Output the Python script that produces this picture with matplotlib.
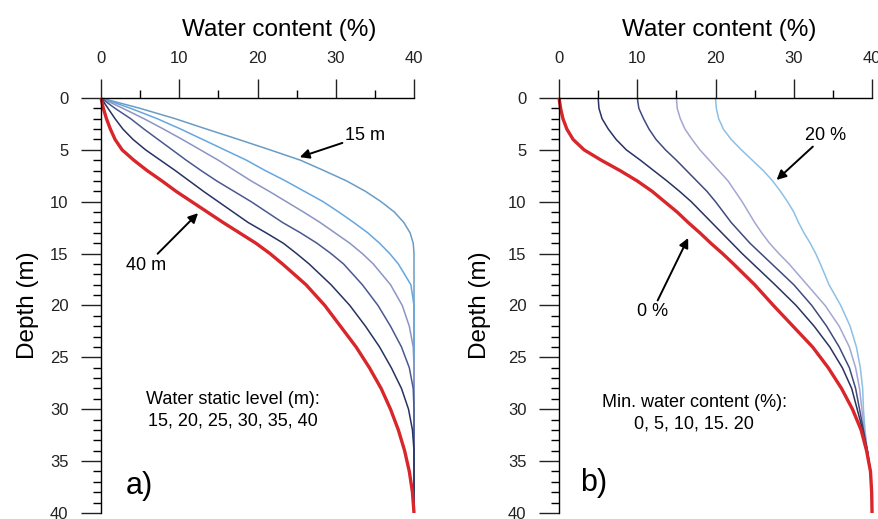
import matplotlib.pyplot as plt
from matplotlib.ticker import MultipleLocator

plt.rcParams['font.family'] = ['Liberation Sans', 'DejaVu Sans']

# Depth grid (m) used for all read-off curves
depth = [0, 1, 2, 3, 4, 5, 6, 7, 8, 9, 10, 11, 12, 13, 14, 15, 16, 18, 20, 22, 24, 26, 28, 30, 32, 34, 36, 38, 40]

# Panel a) water content (%) for water static level 15..40 m
wc_15m = [0, 5.0, 9.5, 13.5, 17.6, 21.6, 25.5, 28.5, 31.4, 33.8, 35.8, 37.5, 38.7, 39.5, 39.9, 40, 40, 40, 40, 40, 40, 40, 40, 40, 40, 40, 40, 40, 40]
wc_20m = [0, 3.8, 7.2, 10.2, 13.0, 15.8, 18.6, 21.0, 23.6, 26.0, 28.4, 30.4, 32.3, 34.1, 35.6, 36.9, 38.0, 39.6, 40, 40, 40, 40, 40, 40, 40, 40, 40, 40, 40]
wc_25m = [0, 2.8, 5.5, 8.0, 10.4, 12.7, 15.0, 17.1, 19.2, 21.5, 23.7, 25.9, 28.0, 29.9, 31.8, 33.4, 34.8, 37.0, 38.5, 39.4, 39.9, 40, 40, 40, 40, 40, 40, 40, 40]
wc_30m = [0, 1.8, 3.8, 5.5, 7.3, 9.1, 10.9, 12.8, 14.8, 17.0, 19.2, 21.2, 23.2, 25.5, 27.6, 29.4, 31.0, 33.4, 35.4, 37.0, 38.4, 39.4, 39.9, 40, 40, 40, 40, 40, 40]
wc_35m = [0, 0.9, 1.8, 2.8, 4.1, 5.7, 7.6, 9.5, 11.3, 13.1, 15.0, 16.9, 18.8, 21.1, 23.3, 25.0, 26.6, 29.4, 31.8, 33.8, 35.6, 37.1, 38.4, 39.3, 39.8, 40, 40, 40, 40]
wc_40m = [0, 0.3, 0.7, 1.2, 1.8, 2.7, 4.2, 5.9, 7.8, 9.6, 11.6, 13.6, 15.6, 17.7, 19.8, 21.6, 23.2, 26.2, 28.6, 30.6, 32.6, 34.3, 35.8, 37.0, 38.0, 38.8, 39.4, 39.8, 40]

# Panel b) water content (%) for min. water content 0..20 %
wc_min0 = [0, 0.2, 0.5, 1.0, 1.8, 3.2, 5.4, 7.8, 10.0, 11.9, 13.5, 15.1, 16.5, 18.0, 19.4, 20.9, 22.3, 25.0, 27.4, 29.9, 32.4, 34.4, 36.1, 37.5, 38.6, 39.3, 39.8, 39.95, 40]
wc_min5 = [5, 5.1, 5.5, 6.3, 7.3, 8.6, 10.4, 12.1, 13.8, 15.4, 16.9, 18.2, 19.5, 20.8, 22.1, 23.4, 24.8, 27.6, 30.3, 32.6, 34.6, 36.2, 37.4, 38.1, 38.8, 39.4, 39.8, 39.95, 40]
wc_min10 = [10, 10.2, 10.8, 11.5, 12.4, 13.6, 15.0, 16.3, 17.6, 18.9, 20.0, 21.0, 22.0, 23.2, 24.4, 25.8, 27.2, 30.0, 32.3, 34.2, 35.8, 37.1, 37.9, 38.4, 38.9, 39.4, 39.8, 39.95, 40]
wc_min15 = [15, 15.1, 15.5, 16.1, 17.0, 18.0, 19.2, 20.4, 21.6, 22.5, 23.4, 24.2, 25.0, 25.9, 26.9, 28.1, 29.4, 31.7, 34.0, 35.8, 37.1, 37.9, 38.4, 38.7, 39.0, 39.4, 39.8, 39.95, 40]
wc_min20 = [20, 20.1, 20.4, 21.0, 22.0, 23.3, 24.7, 26.1, 27.3, 28.3, 29.2, 30.0, 30.6, 31.3, 32.1, 32.8, 33.4, 34.5, 36.0, 37.2, 38.0, 38.5, 38.8, 38.9, 39.1, 39.4, 39.8, 39.95, 40]

curves_a = [wc_15m, wc_20m, wc_25m, wc_30m, wc_35m, wc_40m]
colors_a = ['#6a9cc4', '#66a6de', '#8c94c4', '#4a5890', '#283262', '#d8262a']
curves_b = [wc_min20, wc_min15, wc_min10, wc_min5, wc_min0]
colors_b = ['#8cc0e6', '#a4a6d2', '#404a7c', '#2a3260', '#d8262a']

fig = plt.figure(figsize=(8.79, 5.19), dpi=100)
ax_a = fig.add_axes([0.1149, 0.0116, 0.3561, 0.7996])
ax_b = fig.add_axes([0.6360, 0.0116, 0.3561, 0.7996])


def style_axes(ax, ylabelpad):
    ax.set_xlim(0, 40)
    ax.set_ylim(40, 0)
    for s in ['right', 'bottom']:
        ax.spines[s].set_visible(False)
    for s in ['top', 'left']:
        ax.spines[s].set_linewidth(1.0)
    ax.xaxis.tick_top()
    ax.xaxis.set_label_position('top')
    ax.xaxis.set_major_locator(MultipleLocator(10))
    ax.xaxis.set_minor_locator(MultipleLocator(5))
    ax.yaxis.set_major_locator(MultipleLocator(5))
    ax.yaxis.set_minor_locator(MultipleLocator(1))
    ax.tick_params(axis='x', which='major', direction='out', length=14, width=1, pad=9, labelsize=12, colors='#222222')
    ax.tick_params(axis='x', which='minor', direction='out', length=6, width=1)
    ax.tick_params(axis='y', which='major', direction='out', length=14.5, width=1, pad=9, labelsize=12, colors='#222222')
    ax.tick_params(axis='y', which='minor', direction='out', length=6, width=1)
    ax.set_xlabel('Water content (%)', fontsize=17.5, labelpad=11)
    ax.set_ylabel('Depth (m)', fontsize=17.5, labelpad=ylabelpad)
    ax.patch.set_alpha(0)


style_axes(ax_a, 8)
style_axes(ax_b, 12)
ax_a.xaxis.label.set_x(0.569)
ax_b.xaxis.label.set_x(0.511)

for wc, c in zip(curves_a, colors_a):
    lw = 2.4 if c == '#d8262a' else 1.1
    ax_a.plot(wc, depth, color=c, lw=lw, clip_on=False, solid_capstyle='butt')

for wc, c in zip(curves_b, colors_b):
    lw = 2.4 if c == '#d8262a' else 1.1
    ax_b.plot(wc, depth, color=c, lw=lw, clip_on=False, solid_capstyle='butt')

arrow = dict(arrowstyle='-|>', color='black', lw=1.4, mutation_scale=14, shrinkA=0, shrinkB=0)

# Panel a annotations
ax_a.annotate('15 m', xy=(25.4, 5.7), xytext=(31.2, 3.6), fontsize=13, va='center', ha='left', arrowprops=arrow)
ax_a.annotate('40 m', xy=(12.4, 11.1), xytext=(5.8, 16.1), fontsize=13, va='center', ha='center', arrowprops=arrow)
ax_a.text(16.8, 30.1, 'Water static level (m):\n15, 20, 25, 30, 35, 40', fontsize=13, ha='center', va='center', linespacing=1.38)
ax_a.text(3.2, 37.4, 'a)', fontsize=22, ha='left', va='center')

# Panel b annotations
ax_b.annotate('20 %', xy=(27.8, 7.9), xytext=(34.0, 3.6), fontsize=13, va='center', ha='center', arrowprops=arrow)
ax_b.annotate('0 %', xy=(16.5, 13.5), xytext=(11.9, 20.6), fontsize=13, va='center', ha='center', arrowprops=arrow)
ax_b.text(17.3, 30.4, 'Min. water content (%):\n0, 5, 10, 15. 20', fontsize=13, ha='center', va='center', linespacing=1.38)
ax_b.text(2.7, 37.1, 'b)', fontsize=22, ha='left', va='center')

fig.savefig('out.png', dpi=100, facecolor='white')
